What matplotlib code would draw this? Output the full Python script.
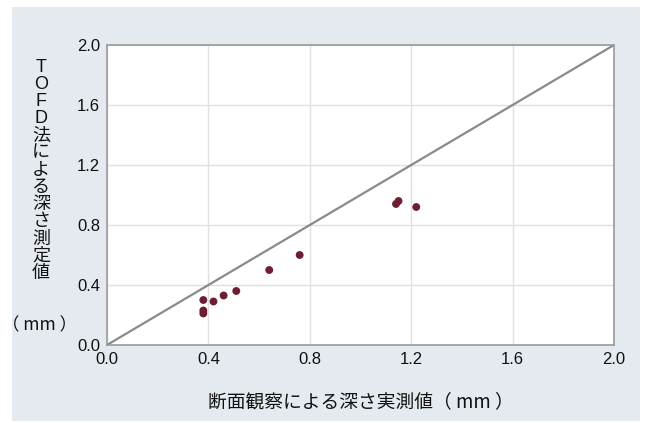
import matplotlib
matplotlib.use('Agg')
import matplotlib.pyplot as plt
from matplotlib.patches import Rectangle

plt.rcParams['font.family'] = ['Liberation Sans', 'Noto Sans CJK JP', 'DejaVu Sans']

# DATA ------------------------------------------------------------------------
actual_depth = [0.38, 0.38, 0.38, 0.42, 0.46, 0.51, 0.64, 0.76, 1.14, 1.15, 1.22]
tofd_depth = [0.30, 0.23, 0.21, 0.29, 0.33, 0.36, 0.50, 0.60, 0.94, 0.96, 0.92]
ref_line = [0.0, 2.0]
ticks = [0.0, 0.4, 0.8, 1.2, 1.6, 2.0]
tick_labels = ['0.0', '0.4', '0.8', '1.2', '1.6', '2.0']
ylabel_chars = list('TOFD法による深さ測定値')
ylabel_unit = '（ mm ）'
xlabel = '断面観察による深さ実測値（ mm ）'
# -----------------------------------------------------------------------------

W, H = 647, 423
fig = plt.figure(figsize=(W / 100, H / 100), dpi=100)
fig.patch.set_facecolor('white')

# light panel behind everything
fig.patches.append(Rectangle((12 / W, 1 - 421 / H), (640 - 12) / W, (421 - 7) / H,
                             transform=fig.transFigure, facecolor='#e5eaf1',
                             edgecolor='none', zorder=-5))

ax = fig.add_axes([107 / W, 1 - 345 / H, (614 - 107) / W, (345 - 45) / H])
ax.set_facecolor('white')
ax.set_xlim(0, 2.0)
ax.set_ylim(0, 2.0)
ax.set_xticks(ticks)
ax.set_yticks(ticks)
ax.set_xticklabels(tick_labels)
ax.set_yticklabels(tick_labels)
ax.tick_params(length=0, labelsize=12, colors='#111111', pad=5)
ax.grid(True, color='#e0e0e0', linewidth=1)
ax.set_axisbelow(True)
for s in ax.spines.values():
    s.set_color('#9a9a9a')
    s.set_linewidth(1.2)

ax.plot(ref_line, ref_line, color='#8a8a8a', linewidth=1.6, zorder=2)
ax.scatter(actual_depth, tofd_depth, s=32, color='#6e1d33', edgecolors='none', zorder=3)

# vertical stacked y label
y0 = 1 - 67 / H
step = 17.2 / H
for i, ch in enumerate(ylabel_chars):
    fig.text(41 / W, y0 - i * step, ch, ha='center', va='center', fontsize=13,
             family=['Liberation Sans', 'Noto Sans CJK JP'], color='#111111')
fig.text(40 / W, 1 - 325 / H, ylabel_unit, ha='center', va='center', fontsize=12.5,
         family=['Noto Sans CJK JP'], color='#111111')

fig.text(361 / W, 1 - 402 / H, xlabel, ha='center', va='center', fontsize=13.5,
         family=['Noto Sans CJK JP'], color='#111111')

fig.savefig('out.png', dpi=100)
